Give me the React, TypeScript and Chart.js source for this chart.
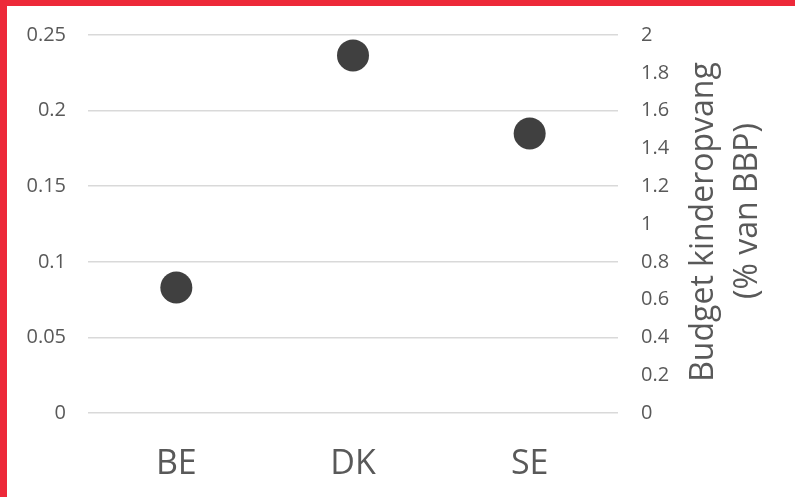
import React, { useEffect, useRef } from "react";
import { Chart, registerables } from "chart.js";

Chart.register(...registerables);

const categories = ["BE", "DK", "SE"];
const budgetValues = [0.664, 1.892, 1.479];
const leftTickLabels = ["0", "0.05", "0.1", "0.15", "0.2", "0.25"];
const rightTickLabels = ["0", "0.2", "0.4", "0.6", "0.8", "1", "1.2", "1.4", "1.6", "1.8", "2"];
const titleLines = ["Budget kinderopvang", "(% van BBP)"];

const FONT = "'Open Sans', 'DejaVu Sans', sans-serif";
const TEXT = "#595959";

const titlePlugin = {
  id: "rightTitle",
  afterDraw(chart: any) {
    const ctx = chart.ctx;
    ctx.save();
    ctx.fillStyle = TEXT;
    ctx.font = `32px ${FONT}`;
    ctx.textAlign = "center";
    ctx.textBaseline = "alphabetic";
    const xs = [706, 750];
    const ys = [216, 205];
    titleLines.forEach((line, i) => {
      ctx.save();
      ctx.translate(xs[i], ys[i]);
      ctx.rotate(-Math.PI / 2);
      ctx.fillText(line, 0, 0);
      ctx.restore();
    });
    ctx.restore();
  },
};

export default function App() {
  const ref = useRef<HTMLCanvasElement>(null);
  useEffect(() => {
    if (!ref.current) return;
    const chart = new Chart(ref.current, {
      type: "line",
      data: {
        labels: categories,
        datasets: [
          {
            label: "Budget kinderopvang (% van BBP)",
            data: budgetValues,
            yAxisID: "y1",
            showLine: false,
            pointRadius: 16,
            pointHoverRadius: 16,
            pointBackgroundColor: "#404040",
            pointBorderColor: "#404040",
            pointBorderWidth: 0,
          },
        ],
      },
      options: {
        responsive: false,
        animation: false,
        layout: { autoPadding: false, padding: { top: 29, left: 0, right: 0, bottom: 0 } },
        plugins: { legend: { display: false }, tooltip: { enabled: false } },
        scales: {
          x: {
            type: "category",
            offset: true,
            grid: { display: false, drawTicks: false },
            border: { display: false },
            ticks: { color: TEXT, font: { family: FONT, size: 34 }, padding: 31 },
            afterFit: (s: any) => {
              s.height = 84;
            },
          },
          y: {
            position: "left",
            min: 0,
            max: 0.25,
            ticks: {
              stepSize: 0.05,
              color: TEXT,
              font: { family: FONT, size: 20 },
              padding: 22,
              callback: (_v: any, i: number) => leftTickLabels[i],
            },
            grid: { color: "#d9d9d9", lineWidth: 1.5, drawTicks: false },
            border: { display: false },
            afterFit: (s: any) => {
              s.width = 81;
              s.paddingTop = 0;
              s.paddingBottom = 0;
            },
          },
          y1: {
            position: "right",
            min: 0,
            max: 2,
            ticks: {
              stepSize: 0.2,
              color: TEXT,
              font: { family: FONT, size: 20 },
              padding: 23,
              callback: (_v: any, i: number) => rightTickLabels[i],
            },
            grid: { display: false, drawTicks: false },
            border: { display: false },
            afterFit: (s: any) => {
              s.width = 177;
              s.paddingTop = 0;
              s.paddingBottom = 0;
            },
          },
        },
      },
      plugins: [titlePlugin],
    });
    return () => chart.destroy();
  }, []);

  return (
    <div
      style={{
        position: "fixed",
        left: 0,
        top: 0,
        width: 795,
        height: 497,
        boxSizing: "border-box",
        borderTop: "6px solid #ED2939",
        borderLeft: "7px solid #ED2939",
        background: "#fff",
      }}
    >
      <canvas ref={ref} width={788} height={491} style={{ display: "block" }} />
    </div>
  );
}
